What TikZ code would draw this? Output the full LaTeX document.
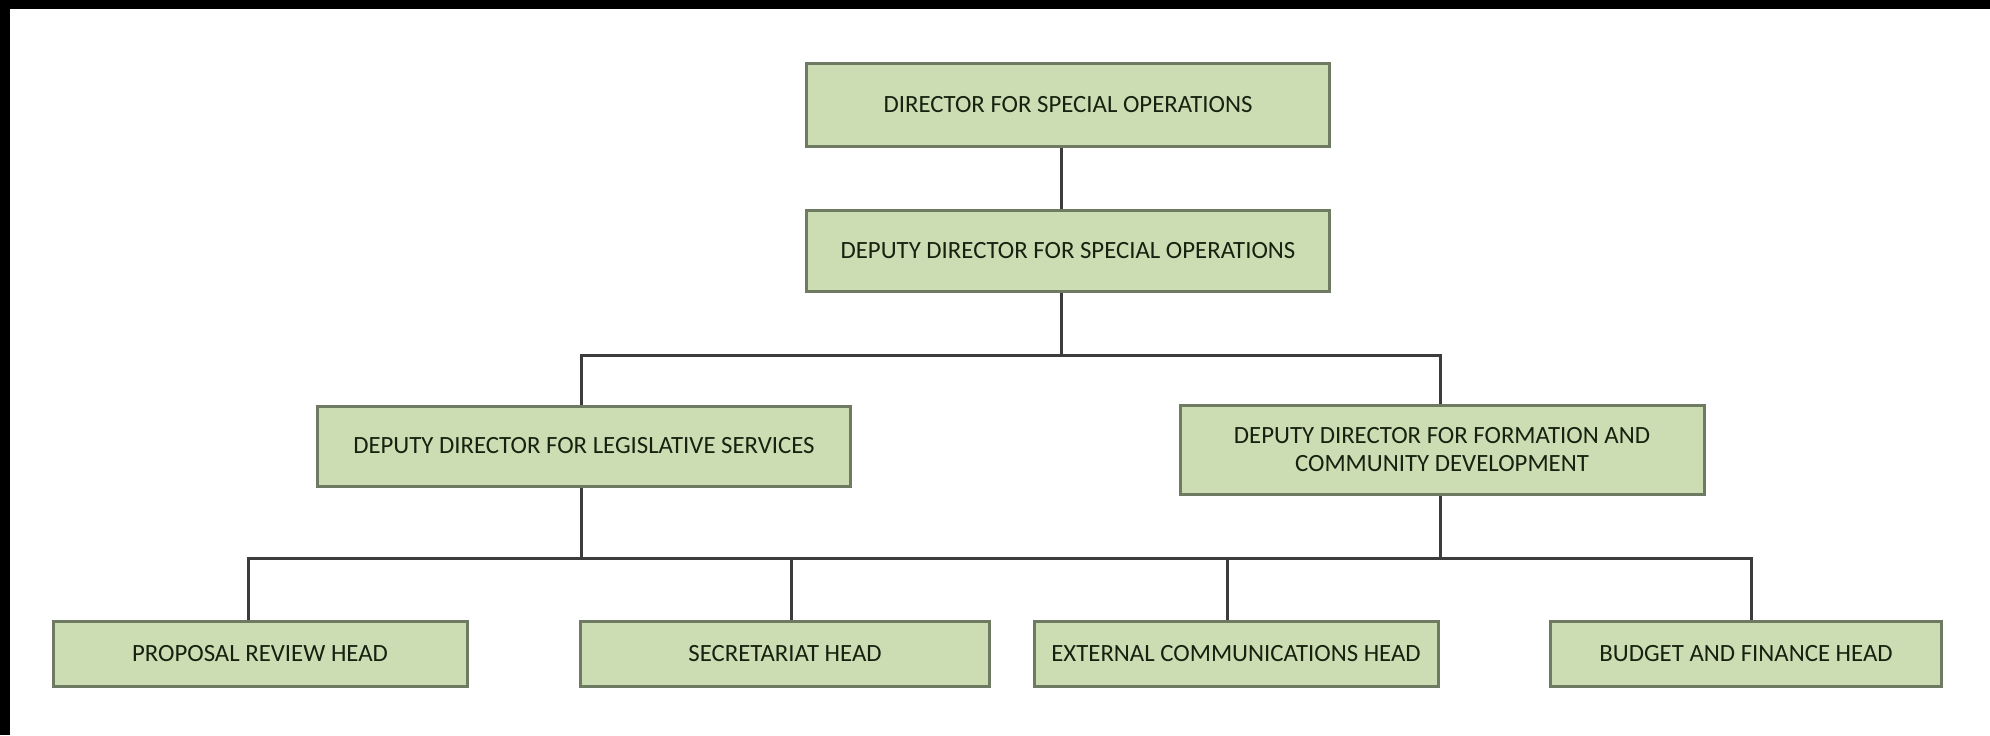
\documentclass[tikz,border=0pt]{standalone}
\usepackage{fontspec}
\setmainfont{Carlito}
\definecolor{boxfill}{HTML}{CCDDB4}
\definecolor{boxline}{HTML}{6E7A62}
\definecolor{linkgray}{HTML}{3C3C3C}
\definecolor{txtdark}{HTML}{16220F}

\begin{document}
\begin{tikzpicture}[x=0.5pt, y=-0.5pt,
		post/.style={draw=boxline, line width=1.5pt, fill=boxfill, text=txtdark, font=\fontsize{12.4}{14}\selectfont, align=center, inner sep=0pt},
		link/.style={draw=linkgray, line width=1.5pt}]
			\useasboundingbox (0,0) rectangle (1990,735);
			\fill[black] (0,0) rectangle (1990,9);
			\fill[black] (0,0) rectangle (10,735);
			% top two levels
			\node[post, minimum width=261.5pt, minimum height=41.5pt] (dso) at (1068,105) {DIRECTOR FOR SPECIAL OPERATIONS};
			\node[post, minimum width=261.5pt, minimum height=40.5pt] (ddso) at (1068,251) {DEPUTY DIRECTOR FOR SPECIAL OPERATIONS};
			\node[post, minimum width=266.5pt, minimum height=40pt] (legis) at (584,446) {DEPUTY DIRECTOR FOR LEGISLATIVE SERVICES};
			\node[post, minimum width=262pt, minimum height=44.5pt] (form) at (1442,450) {DEPUTY DIRECTOR FOR FORMATION AND\\COMMUNITY DEVELOPMENT};
			% heads
			\node[post, minimum width=207pt, minimum height=32.5pt] (prop) at (260,654) {PROPOSAL REVIEW HEAD};
			\node[post, minimum width=204.5pt, minimum height=32.5pt] (sec) at (785,654) {SECRETARIAT HEAD};
			\node[post, minimum width=202pt, minimum height=32.5pt] (ext) at (1236,654) {EXTERNAL COMMUNICATIONS HEAD};
			\node[post, minimum width=195.5pt, minimum height=32.5pt] (budget) at (1746,654) {BUDGET AND FINANCE HEAD};
			\coordinate (bar1) at (1061,355);
			\coordinate (bar2) at (1000,558);
			\draw[link] ([xshift=-3.5pt]dso.south) -- ([xshift=-3.5pt]ddso.north);
			\draw[link] ([xshift=-3.5pt]ddso.south) -- (bar1);
			\draw[link] ([xshift=-1.5pt]legis.north) |- (bar1) -| ([xshift=-1pt]form.north);
			\draw[link] ([xshift=-6pt]prop.north) |- (bar2) -| ([xshift=2.5pt]budget.north);
			\draw[link] ([xshift=-1.5pt]legis.south) -- ([xshift=-1.5pt]legis.south |- bar2);
			\draw[link] ([xshift=-1pt]form.south) -- ([xshift=-1pt]form.south |- bar2);
			\draw[link] ([xshift=3pt]sec.north) -- ([xshift=3pt]sec.north |- bar2);
			\draw[link] ([xshift=-4.5pt]ext.north) -- ([xshift=-4.5pt]ext.north |- bar2);
		\end{tikzpicture}
\end{document}
